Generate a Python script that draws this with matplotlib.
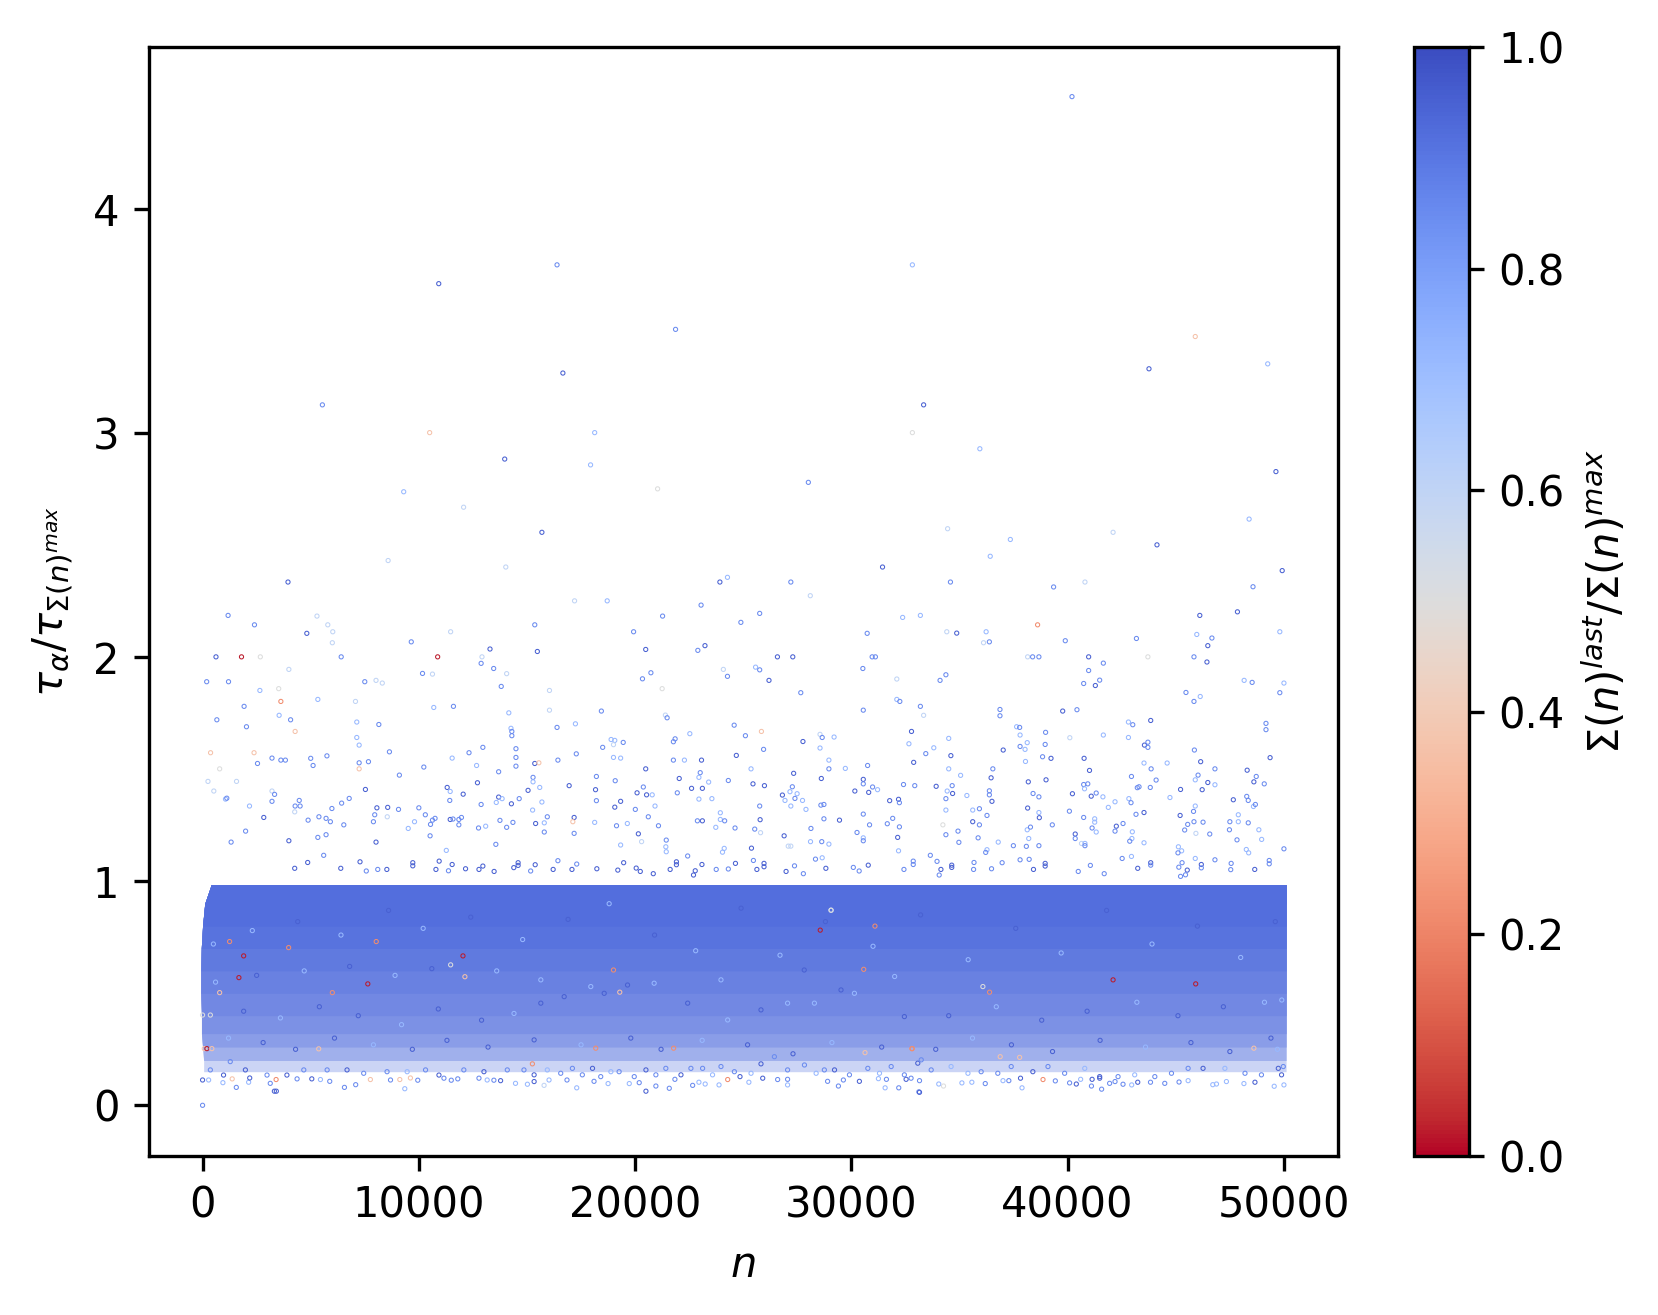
import matplotlib
matplotlib.use("Agg")
import matplotlib.pyplot as plt
from matplotlib.cm import ScalarMappable
from matplotlib.colors import Normalize

# sigma levels: approximate classes judged from the colour of each mark
D, M, L, P = 0.95, 0.85, 0.72, 0.60
G, T, O, R = 0.50, 0.37, 0.22, 0.02

# (n in thousands, tau ratio, sigma ratio)
sparse_top = [
(10.92,3.668,D),(16.39,3.752,M),(21.87,3.464,M),(16.66,3.269,D),(5.54,3.127,M),(10.5,3.003,T),(18.13,3.003,L),(13.97,2.885,D),
(17.94,2.859,L),(9.30,2.739,L),(12.07,2.67,P),(21.04,2.752,G),(28.01,2.781,M),(15.69,2.558,D),(8.58,2.432,P),(14.02,2.403,P),
(3.95,2.336,D),(23.92,2.336,D),(24.27,2.357,L),(27.2,2.336,M),(40.2,4.503,M),(32.82,3.752,L),(33.34,3.127,D),(32.82,3.003,G),
(35.94,2.931,L),(45.9,3.432,T),(43.76,3.288,D),(49.25,3.31,L),(49.63,2.829,D),(34.45,2.574,P),(37.35,2.526,L),(36.42,2.451,L),
(42.1,2.558,P),(44.13,2.502,D),(48.39,2.617,L),(49.92,2.387,D),(31.44,2.403,D),(34.58,2.336,M),(39.35,2.314,M),(40.8,2.336,P),(48.57,2.315,M),
]
sparse_left = [
(17.2,2.252,P),(18.71,2.252,L),(28.1,2.275,P),(1.18,2.187,M),(2.4,2.145,M),(5.29,2.184,P),(5.79,2.145,P),(6.02,2.114,P),(6.0,2.065,P),
(4.82,2.107,D),(6.41,2.002,M),(0.62,2.002,D),(1.8,2.002,R),(2.67,2.002,G),(3.99,1.946,P),(0.19,1.891,M),(1.2,1.891,M),(2.65,1.852,L),
(3.52,1.86,G),(3.62,1.803,O),(5.33,1.812,L),(1.92,1.781,M),(3.54,1.741,L),(4.07,1.721,M),(0.66,1.721,M),(2.03,1.69,M),(4.28,1.669,T),
(0.37,1.574,T),(2.38,1.574,T),(0.79,1.502,G),(0.25,1.446,P),(1.57,1.446,P),(0.52,1.403,P),(2.54,1.526,M),(3.21,1.55,M),(3.62,1.541,M),
(3.83,1.541,M),(5.0,1.549,M),(5.11,1.517,M),(5.75,1.56,M),(1.06,1.367,L),(1.12,1.371,M),(2.17,1.336,L),(3.21,1.403,P),(3.33,1.388,M),
(3.21,1.357,M),(4.47,1.361,M),(4.28,1.336,M),(4.51,1.336,M),(4.26,1.31,P),(2.83,1.285,D),(1.99,1.224,M),(1.32,1.175,M),(3.99,1.181,D),
(4.88,1.273,M),(5.38,1.288,M),(5.71,1.281,M),(5.91,1.266,M),(5.98,1.325,M),(6.43,1.349,M),(6.78,1.37,M),(6.53,1.252,M),(5.33,1.196,M),
(5.71,1.208,M),(5.6,1.116,M),(4.86,1.084,D),(4.26,1.058,D),(6.39,1.058,D),(7.28,1.087,D),(7.57,1.046,M),(8.1,1.053,M),(8.52,1.053,D),
(9.72,1.083,D),(9.72,1.069,D),(10.79,1.053,D),(10.94,1.09,D),(11.37,1.047,M),(11.54,1.075,D),(12.16,1.056,D),(12.78,1.053,D),(12.96,1.068,D),
(13.48,1.044,D),(14.39,1.061,D),(14.59,1.083,D),(14.59,1.071,D),(15.17,1.046,M),(15.38,1.074,D),(16.21,1.053,D),(16.43,1.092,M),(17.08,1.053,D),
(17.3,1.077,M),(18.23,1.056,D),(19.2,1.05,D),(19.47,1.083,D),(20.05,1.059,D),(20.24,1.044,D),(20.84,1.034,D),(21.62,1.053,D),(21.91,1.087,D),
(21.91,1.074,D),(22.43,1.113,M),(22.7,1.028,D),(22.78,1.047,D),(23.09,1.075,D),(23.75,1.053,M),(24.31,1.055,M),(24.64,1.08,D),(25.47,1.093,M),
(25.63,1.053,D),(25.96,1.08,D),(25.96,1.065,D),(26.98,1.044,D),(27.37,1.069,M),(27.78,1.034,M),(28.34,1.099,M),(28.65,1.105,L),(28.82,1.058,D),
(7.5,1.891,M),(8.02,1.897,P),(8.31,1.885,P),(9.65,2.069,M),(11.47,2.114,P),(10.17,1.928,M),(10.63,1.925,P),(10.87,2.002,R),(12.92,2.002,P),
(12.88,1.973,M),(13.29,2.037,D),(13.46,1.95,M),(14.06,1.927,P),(13.81,1.87,M),(15.36,2.145,M),(15.48,2.026,D),(16.04,1.852,P),(16.04,1.764,P),
(7.07,1.803,P),(7.13,1.711,L),(8.15,1.7,M),(7.13,1.642,L),(7.24,1.608,L),(8.64,1.578,M),(7.24,1.529,M),(7.24,1.502,T),(7.67,1.534,M),(9.1,1.474,M),
(7.53,1.41,D),(10.69,1.776,L),(11.6,1.781,M),(14.16,1.752,L),(14.26,1.683,L),(14.3,1.669,M),(14.3,1.65,M),(16.39,1.687,M),(17.24,1.703,L),
(18.44,1.76,M),(19.93,2.114,M),(21.27,2.184,M),(20.49,2.035,D),(22.9,2.031,M),(23.23,2.052,D),(23.05,2.233,M),(25.76,2.196,M),(24.89,2.156,M),
(24.08,1.946,P),(24.27,1.915,M),(20.34,1.904,M),(20.73,1.931,M),(21.25,1.86,G),(21.4,1.742,P),(21.48,1.73,M),(25.57,1.956,L),(25.76,1.944,M),
(26.19,1.897,D),(26.58,2.002,D),(27.29,2.002,D),(27.66,1.842,M),(24.58,1.697,M),(25.1,1.65,M),(25.84,1.669,T),(27.76,1.624,D),(28.55,1.656,P),
(28.65,1.642,M),(22.53,1.659,L),(21.77,1.623,M),(21.85,1.636,M),(18.89,1.633,L),(19.06,1.629,L),(19.0,1.61,P),(19.45,1.62,M),(18.5,1.598,M),
(17.28,1.569,M),(12.96,1.598,M),(12.32,1.574,M),(14.49,1.592,M),(14.49,1.553,M),(14.49,1.514,M),(11.54,1.55,L),(12.67,1.517,L),(10.23,1.51,M),
(15.36,1.526,D),(15.55,1.529,T),(16.43,1.541,M),(19.0,1.553,L),(19.33,1.55,L),(20.49,1.502,D),(21.77,1.541,M),(22.28,1.541,L),(23.07,1.541,D),
(24.68,1.562,D),(25.94,1.589,M),(28.55,1.595,L),(28.96,1.541,L),(25.36,1.502,L),(28.96,1.502,M),(23.01,1.485,M),(22.95,1.464,L),(22.04,1.459,D),
(18.21,1.468,M),(19.08,1.449,M),(20.38,1.421,M),(20.09,1.395,D),(20.53,1.386,D),(20.79,1.386,L),(21.95,1.395,M),(22.61,1.415,D),(23.11,1.415,D),
(23.4,1.443,L),(24.31,1.45,M),(25.45,1.435,D),(25.98,1.427,D),(27.33,1.482,D),(28.61,1.459,D),(27.27,1.422,M),(27.16,1.4,L),(27.49,1.391,L),
(26.81,1.385,D),(26.93,1.361,L),(27.39,1.37,M),(27.74,1.361,L),(27.2,1.336,L),(27.9,1.321,L),(28.59,1.34,M),(28.73,1.343,M),(25.76,1.336,M),
(23.94,1.306,L),(23.55,1.369,L),(22.95,1.367,L),(20.92,1.336,L),(20.01,1.321,M),(19.33,1.357,D),(19.06,1.331,D),(18.17,1.409,D),(18.21,1.36,M),
(16.95,1.427,D),(15.59,1.419,L),(15.28,1.464,M),(15.28,1.444,L),(15.05,1.406,D),(14.64,1.369,M),(14.28,1.346,D),(15.69,1.354,L),(15.26,1.318,L),
(15.94,1.288,M),(17.18,1.285,D),(17.12,1.266,T),(15.8,1.261,L),(15.4,1.258,D),(14.35,1.263,M),(13.75,1.272,M),(14.06,1.241,M),(13.09,1.246,L),
(12.76,1.238,M),(12.88,1.343,M),(13.58,1.352,L),(13.69,1.376,D),(13.85,1.369,L),(12.71,1.44,D),(13.69,1.489,M),(12.05,1.389,D),(11.31,1.419,D),
(11.45,1.401,L),(11.43,1.361,M),(10.0,1.328,M),(9.06,1.321,M),(8.56,1.33,D),(8.06,1.328,D),(7.96,1.297,M),(8.54,1.288,P),(7.9,1.266,M),
(10.3,1.297,M),(9.8,1.266,L),(9.51,1.236,L),(10.54,1.254,M),(10.63,1.273,M),(10.75,1.281,M),(11.45,1.276,D),(11.58,1.278,M),(11.85,1.276,M),
(11.97,1.285,M),(11.85,1.252,M),(10.52,1.203,M),(8.02,1.175,D),(11.27,1.138,L),(13.56,1.165,M),(15.8,1.22,M),(17.18,1.214,M),(18.13,1.263,L),
(19.14,1.248,M),(19.64,1.258,L),(20.61,1.288,M),(21.08,1.248,M),(20.15,1.212,D),(19.33,1.162,L),(20.3,1.177,P),(21.44,1.184,M),(21.42,1.154,L),
(21.44,1.132,L),(22.88,1.27,M),(23.11,1.27,D),(23.94,1.276,L),(24.14,1.27,M),(23.73,1.241,L),(24.62,1.238,M),(25.53,1.233,M),(25.78,1.275,D),
(25.8,1.217,P),(26.89,1.203,D),(28.13,1.236,M),(28.73,1.279,M),(28.11,1.177,L),(28.63,1.177,M),(28.96,1.166,L),(27.08,1.157,P),(27.2,1.157,P),
(25.38,1.148,D),(24.12,1.147,L),(24.04,1.13,L),
]
sparse_right = [
(32.37,2.178,L),(33.19,2.187,L),(30.73,2.107,M),(34.41,2.114,P),(34.87,2.108,D),(36.23,2.114,L),(36.11,2.065,P),(36.38,2.069,M),(38.61,2.145,O),
(39.89,2.074,M),(43.18,2.084,M),(45.97,2.102,L),(46.67,2.086,M),(46.11,2.187,D),(47.85,2.203,D),(46.48,2.052,D),(49.81,2.114,L),(30.96,2.002,M),
(31.11,2.002,M),(30.53,1.95,M),(32.1,1.903,P),(34.37,1.922,M),(34.1,1.897,M),(38.15,2.002,P),(38.38,2.002,M),(38.67,2.002,M),(40.97,2.002,D),
(41.65,1.974,M),(40.97,1.941,M),(41.48,1.898,M),(41.28,1.874,D),(40.74,1.883,M),(43.71,2.002,G),(45.84,2.002,M),(46.44,1.979,D),(48.16,1.897,L),
(48.53,1.888,M),(50.0,1.885,L),(49.81,1.842,M),(45.47,1.843,M),(46.13,1.825,L),(45.84,1.803,M),(32.1,1.812,L),(32.24,1.803,M),(33.19,1.781,M),
(33.34,1.741,P),(30.55,1.764,M),(36.87,1.767,M),(36.87,1.739,M),(39.77,1.76,D),(40.43,1.766,M),(43.84,1.718,D),(42.81,1.711,L),(43.01,1.699,M),
(49.17,1.705,M),(49.17,1.677,M),(37.64,1.69,L),(37.78,1.687,M),(38.98,1.665,M),(37.8,1.653,L),(32.78,1.669,D),(29.2,1.644,L),(34.5,1.638,L),
(40.1,1.641,P),(41.65,1.653,L),(42.81,1.642,L),(32.66,1.614,L),(33.81,1.596,L),(33.44,1.57,M),(34.6,1.561,D),(32.88,1.531,D),(30.75,1.517,M),
(29.72,1.504,L),(34.5,1.502,L),(35.05,1.473,L),(36.54,1.502,M),(37.02,1.586,D),(37.8,1.602,M),(38.13,1.619,L),(38.03,1.589,L),(38.96,1.611,M),
(38.84,1.556,M),(39.23,1.549,D),(38.05,1.535,L),(40.76,1.549,D),(41.01,1.495,D),(43.55,1.608,D),(43.71,1.621,M),(43.71,1.598,M),(43.53,1.528,L),
(44.6,1.528,L),(43.86,1.502,M),(42.95,1.468,M),(44.09,1.452,M),(45.86,1.586,M),(46.15,1.534,D),(46.81,1.502,M),(46.03,1.474,M),(45.9,1.453,L),
(46.48,1.441,D),(46.81,1.431,L),(46.22,1.409,D),(49.36,1.552,D),(48.3,1.496,D),(48.72,1.468,M),(48.61,1.444,D),(49.09,1.435,M),(30.55,1.455,D),
(30.55,1.435,M),(30.16,1.403,D),(30.8,1.397,D),(30.98,1.421,M),(31.21,1.409,L),(32.41,1.432,M),(32.93,1.427,M),(33.92,1.424,D),(34.66,1.427,M),
(34.68,1.392,D),(34.43,1.403,L),(34.37,1.369,M),(31.77,1.36,D),(32.18,1.366,D),(32.22,1.351,M),(35.34,1.383,L),(36.46,1.462,D),(36.38,1.404,M),
(36.38,1.386,M),(36.5,1.357,D),(38.18,1.444,D),(39.0,1.453,D),(38.4,1.392,M),(38.67,1.377,M),(40.74,1.432,M),(40.93,1.435,M),(40.78,1.413,L),
(40.22,1.391,D),(41.09,1.38,D),(41.32,1.394,M),(41.63,1.377,L),(42.19,1.355,L),(41.88,1.33,L),(42.83,1.369,L),(42.93,1.351,M),(43.22,1.418,M),
(43.3,1.422,M),(43.82,1.419,M),(44.73,1.374,L),(45.22,1.41,D),(45.9,1.336,L),(45.82,1.312,M),(45.2,1.294,D),(47.66,1.364,D),(48.28,1.379,M),
(48.35,1.361,M),(48.59,1.334,L),(48.68,1.343,M),(47.89,1.297,L),(47.89,1.266,L),(47.5,1.266,M),(47.48,1.23,M),(48.35,1.261,M),(48.84,1.23,L),
(47.83,1.185,M),(48.97,1.187,L),(48.26,1.142,L),(48.37,1.127,L),(50.0,1.145,M),(30.55,1.3,M),(29.45,1.273,D),(30.84,1.252,M),(31.91,1.281,M),
(31.66,1.257,M),(32.22,1.243,M),(30.26,1.218,M),(30.55,1.194,L),(30.55,1.181,M),(32.14,1.196,D),(32.18,1.136,L),(34.37,1.318,L),(34.23,1.252,G),
(34.37,1.208,M),(34.93,1.224,M),(34.97,1.174,M),(35.61,1.318,L),(35.92,1.324,M),(36.27,1.294,M),(35.61,1.266,D),(35.92,1.252,M),(35.86,1.194,M),
(36.79,1.175,L),(36.27,1.141,L),(36.21,1.129,M),(37.49,1.159,M),(38.09,1.156,M),(38.67,1.159,M),(38.2,1.191,L),(38.13,1.23,L),(38.28,1.242,M),
(38.15,1.327,D),(38.67,1.307,L),(38.69,1.284,D),(39.29,1.252,M),(40.08,1.313,M),(40.74,1.285,M),(41.25,1.279,L),(41.25,1.264,L),(41.13,1.238,M),
(41.32,1.22,L),(40.35,1.211,D),(40.35,1.191,M),(40.64,1.169,P),(40.8,1.169,L),(40.8,1.159,M),(42.25,1.246,D),(42.19,1.224,M),(42.56,1.258,M),
(43.16,1.299,M),(43.53,1.307,D),(42.99,1.221,L),(42.97,1.191,L),(42.87,1.179,M),(43.53,1.172,L),(45.41,1.229,M),(45.55,1.254,M),(45.84,1.266,M),
(46.26,1.264,M),(45.93,1.214,P),(46.57,1.211,M),(45.12,1.154,L),(45.27,1.136,L),(45.1,1.127,M),(30.09,1.062,M),(30.36,1.046,M),(30.78,1.072,D),
(32.43,1.053,M),(32.86,1.09,M),(32.86,1.075,M),(33.65,1.116,M),(33.96,1.089,M),(34.14,1.053,D),(34.06,1.028,M),(34.64,1.072,D),(34.64,1.062,D),
(35.67,1.084,M),(35.65,1.053,M),(36.48,1.056,M),(36.97,1.083,M),(37.8,1.096,M),(38.22,1.098,M),(38.42,1.053,D),(38.96,1.08,D),(38.96,1.068,D),
(40.49,1.044,M),(41.05,1.071,M),(41.69,1.034,M),(42.52,1.102,M),(42.95,1.111,L),(43.24,1.058,D),(43.84,1.083,D),(43.84,1.072,M),(45.14,1.063,M),
(45.29,1.083,M),(45.53,1.05,D),(45.22,1.022,M),(45.45,1.029,M),(45.9,1.102,L),(46.18,1.075,D),(46.18,1.06,M),(46.81,1.096,M),(47.56,1.08,M),
(47.54,1.052,M),(48.65,1.053,D),(49.32,1.093,M),(49.32,1.078,M),
]
# lower edge of the dense cloud
fringe = [
(0,0.0,M),(0,.113,D),(.28,.113,L),(.97,.135,D),(.94,.101,L),(1.56,.08,M),(1.37,.118,T),(2.13,.103,L),(2.18,.122,D),(3.4,.115,O),(3.13,.098,M),
(3.32,.063,D),(3.41,.063,D),(4.37,.118,M),(5.05,.118,D),(5.45,.115,L),(5.88,.107,M),(6.56,.08,M),(7.08,.092,M),(7.76,.115,T),(8.69,.113,M),
(9.12,.115,T),(9.35,.074,L),(9.61,.122,T),(9.95,.112,M),(11.16,.121,M),(11.5,.112,M),(11.8,.118,M),(12.78,.121,M),(13.16,.113,L),(13.47,.112,M),
(13.78,.11,D),(14.47,.098,L),(15.02,.094,L),(15.79,.089,P),(15.33,.106,D),(16.02,.113,L),(16.85,.113,M),(17.3,.078,L),(18.1,.107,M),(18.75,.097,L),
(19.73,.097,L),(20.5,.063,D),(20.96,.086,M),(20.19,.101,M),(21.84,.116,M),(21.58,.076,M),(22.66,.089,M),(22.95,.103,L),(23.24,.095,L),(23.88,.091,L),
(24.28,.115,O),(24.85,.128,D),(25.26,.103,L),(25.9,.121,D),(27.05,.091,L),(26.59,.115,M),(27.05,.116,M),(28.9,.107,M),(29.4,.086,M),(29.63,.113,M),
(30.37,.107,D),(31.56,.078,L),(32.19,.078,M),(33.12,.06,M),(32.76,.121,M),(31.62,.116,M),(31.25,.119,L),(33.15,.058,D),(32.53,.116,D),(33.15,.11,M),
(34.04,.095,L),(34.26,.086,G),(35.11,.1,L),(35.57,.103,L),(36.19,.097,M),(37.01,.11,L),(37.28,.11,M),(37.82,.121,D),(37.89,.078,L),(38.86,.115,O),
(39.43,.109,M),(40.09,.1,M),(40.4,.095,D),(40.6,.116,L),(41.1,.086,M),(41.13,.116,D),(41.57,.072,M),(41.48,.121,D),(41.94,.098,M),(42.19,.106,M),
(42.56,.094,M),(42.96,.091,L),(43.24,.103,D),(43.83,.103,M),(44.49,.098,M),(45.15,.104,M),(45.57,.11,L),(46.71,.092,L),(46.88,.095,L),(47.34,.106,L),
(48.15,.097,L),(48.66,.103,D),(49.55,.085,L),(50.0,.091,L),
(15.33,.136,D),(14.86,.158,M),(15.94,.158,L),(16.56,.143,M),(17.1,.165,M),(17.56,.136,M),(18.03,.165,D),(18.41,.128,M),(18.88,.15,L),(19.26,.15,M),
(19.96,.128,M),(20.5,.158,D),(20.96,.136,M),(21.42,.165,M),(22.12,.136,D),(22.58,.165,M),(23.12,.165,M),(23.58,.136,L),(23.97,.173,M),(24.59,.15,M),
(25.36,.143,L),(25.82,.185,D),(26.44,.217,M),(27.05,.158,M),(27.83,.18,M),(28.37,.143,L),(28.75,.158,M),(29.22,.158,D),(29.91,.136,M),(30.76,.165,M),
(31.3,.143,L),(31.84,.173,M),(32.45,.136,M),(33.07,.188,D),(33.23,.203,M),(33.69,.158,M),(34.61,.173,L),(35.39,.143,L),(36.0,.15,M),(36.77,.143,M),
(37.39,.173,M),(38.39,.15,D),(39.09,.173,M),(39.86,.143,M),(40.79,.165,L),(41.48,.128,D),(42.33,.128,M),(43.1,.136,L),(44.03,.128,M),(44.8,.143,M),
(45.57,.165,M),(46.26,.165,D),(47.27,.165,L),(48.2,.143,M),(48.96,.136,M),(49.74,.165,D),(49.97,.173,M),(49.89,.136,D),
(.36,.158,M),(1.28,.195,M),(1.98,.158,D),(2.98,.135,M),(3.9,.135,D),(4.68,.158,M),(5.76,.158,M),(6.68,.158,D),(7.45,.143,M),(8.53,.15,M),(9.46,.15,L),
(10.31,.158,M),(10.93,.135,D),(12.08,.158,M),(13.01,.15,D),(14.09,.158,M),
]
# rings inside the dense cloud: mostly placed by eye to suggest texture, not individual readings
band_samples = [
(15.64,.56,L),(17.95,.53,L),(23.97,.56,L),(24.28,.381,L),(27.05,.456,L),(28.29,.456,L),(30.14,.5,L),(32.0,.575,L),(20.88,.545,L),(22.43,.456,D),
(18.57,.5,D),(19.65,.537,D),(15.64,.456,D),(16.72,.485,D),(25.82,.426,D),(27.82,.604,D),(29.52,.515,D),(32.45,.396,D),(15.33,.292,D),(17.5,.27,L),
(19.8,.3,D),(21.2,.25,D),(23.1,.29,L),(25.2,.27,D),(27.3,.23,D),(29.1,.28,L),(31.4,.26,D),(33.9,.25,D),(35.6,.3,L),(37.4,.27,D),(39.3,.24,D),
(41.5,.29,D),(43.6,.26,L),(45.7,.28,D),(47.5,.24,D),(49.4,.3,D),(34.5,.4,D),(36.7,.44,L),(38.8,.38,D),(40.9,.42,D),(43.2,.46,L),(45.1,.4,D),
(47.2,.44,D),(49.1,.46,L),(1.2,.3,L),(2.8,.28,D),(4.3,.25,D),(6.1,.3,D),(7.9,.27,L),(9.7,.25,D),(11.3,.29,D),(13.2,.26,D),(1.9,.42,D),(3.6,.39,L),
(5.4,.44,D),(7.2,.4,D),(9.2,.36,L),(10.9,.43,D),(12.9,.38,D),(14.4,.41,L),(.6,.55,L),(2.5,.58,D),(4.7,.6,L),(6.8,.62,D),(8.9,.58,L),(10.6,.61,D),
(13.6,.6,L),(.5,.72,L),(2.3,.78,L),(4.4,.82,D),(6.4,.76,L),(8.6,.87,D),(10.2,.79,L),(12.4,.84,D),(14.8,.74,L),(16.9,.83,D),(18.8,.9,L),(20.9,.76,D),
(22.8,.69,L),(24.9,.88,D),(26.7,.67,L),(28.8,.82,D),(31.0,.71,L),(33.2,.85,D),(35.4,.65,L),(37.6,.79,D),(39.7,.68,L),(41.8,.87,D),(43.9,.72,L),
(46.0,.8,D),(48.0,.66,L),(49.6,.82,D),(29.06,.871,P),(49.9,.47,L),(49.7,.25,L),
]
# strongly coloured marks visible inside the dense cloud, read approximately
band_accents = [
(1.25,.731,O),(1.9,.667,R),(1.68,.57,R),(.79,.503,T),(.08,.253,T),(.2,.253,R),(.43,.253,T),(5.37,.252,T),(8.03,.731,O),(12.04,.667,R),(12.13,.574,T),
(11.47,.627,G),(3.98,.704,O),(7.64,.542,R),(6.0,.503,O),(0,.403,G),(.36,.403,G),(19.29,.505,T),(19.0,.604,O),(15.25,.185,O),(21.78,.255,O),
(30.63,.235,T),(32.8,.253,O),(30.57,.607,O),(18.18,.255,O),(42.1,.56,R),(45.92,.542,R),(48.61,.255,T),(32.81,.253,O),(36.88,.217,T),(37.78,.214,T),
(36.39,.505,O),(36.08,.53,G),(28.56,.782,R),(31.09,.8,O),(29.06,.871,G),
]
# Stand-in for the dense cloud, whose thousands of overlapping points cannot be read one by one:
# filled rows with lower edge, left limit of n (thousands) and estimated share covered by marks
cloud_tau = [0.15, 0.20, 0.26, 0.32, 0.40, 0.50, 0.60, 0.70, 0.80, 0.90, 0.985]
cloud_left = [0.05, 0.05, 0.0, -0.05, -0.05, -0.08, -0.08, -0.06, 0.0, 0.1, 0.4]
cloud_cover = [0.30, 0.55, 0.68, 0.76, 0.82, 0.87, 0.92, 0.97, 1.0, 1.0]
cloud_sigma = 0.92
n_end = 50.1

all_points = sparse_top + sparse_left + sparse_right + fringe + band_samples + band_accents
n_vals = [p[0] * 1000 for p in all_points]
tau_vals = [p[1] for p in all_points]
sigma_vals = [p[2] for p in all_points]

W, H, DPI = 1658, 1315, 300
fig = plt.figure(figsize=(W / DPI, H / DPI), dpi=DPI)
ax = fig.add_axes([148.5 / W, (H - 1155.7) / H, 1189.5 / W, 1108.8 / H])
cax = fig.add_axes([1414 / W, (H - 1155.7) / H, 55 / W, 1108.8 / H])

cmap = plt.get_cmap("coolwarm_r")
norm = Normalize(0, 1)

# nested opaque rows: each one covers everything above its lower edge, so no seams show
base = cmap(norm(cloud_sigma))
for i, a in enumerate(cloud_cover):
    blended = tuple(a * c + (1 - a) for c in base[:3])
    ax.fill_betweenx(cloud_tau[i:],
                     [v * 1000 for v in cloud_left[i:]],
                     n_end * 1000,
                     color=blended, lw=0, zorder=1)

ax.scatter(n_vals, tau_vals, s=1.0, marker="o", facecolors="none",
           edgecolors=cmap(norm(sigma_vals)), linewidths=0.25, zorder=2)

ax.set_xlim(-2500, 52500)
ax.set_ylim(-0.225, 4.725)
ax.set_xticks([0, 10000, 20000, 30000, 40000, 50000])
ax.set_yticks([0, 1, 2, 3, 4])
ax.set_xlabel(r"$n$")
ax.set_ylabel(r"$\tau_{\alpha}/\tau_{\Sigma(n)^{max}}$")

cb = fig.colorbar(ScalarMappable(norm=norm, cmap=cmap), cax=cax)
cb.set_ticks([0, 0.2, 0.4, 0.6, 0.8, 1.0])
cb.set_label(r"$\Sigma(n)^{last}/\Sigma(n)^{max}$")

fig.savefig("out.png", dpi=DPI)
